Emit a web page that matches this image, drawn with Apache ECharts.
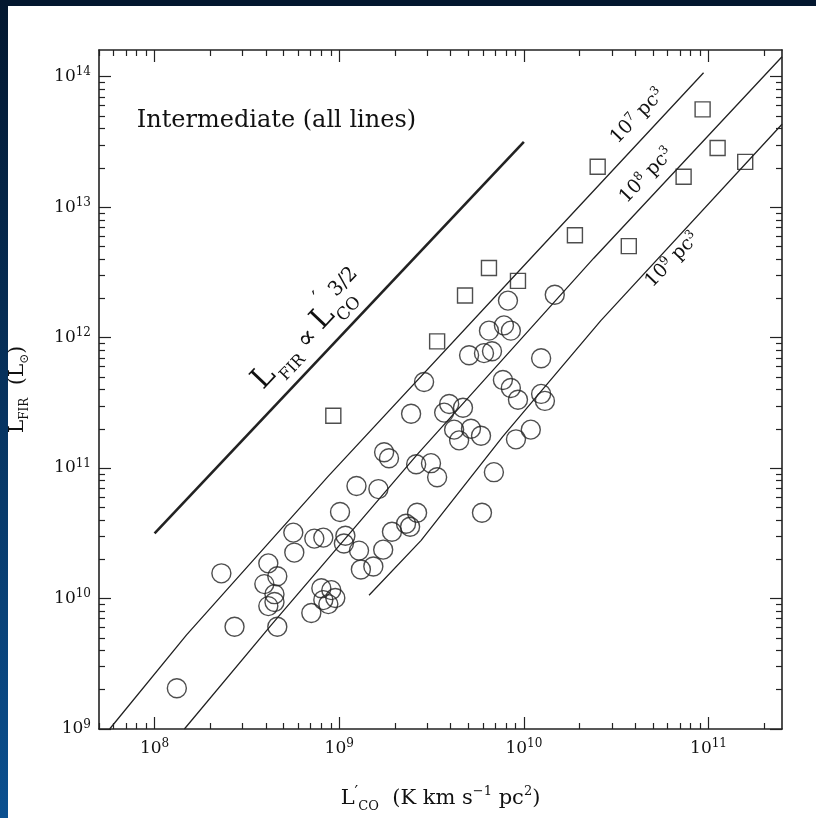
<!DOCTYPE html>
<html><head><meta charset="utf-8">
<script src="https://cdn.jsdelivr.net/npm/echarts@6/dist/echarts.min.js"></script>
<style>html,body{margin:0;padding:0;background:#fff}#c{width:816px;height:818px}</style>
</head><body><div id="c"></div>
<script>
// ---- data (L'CO [K km s^-1 pc^2], LFIR [Lsun]) ----
const circles = [
 [1.32e8,2.05e9],[2.30e8,1.56e10],[2.71e8,6.07e9],[4.13e8,1.86e10],[4.62e8,1.48e10],
 [3.93e8,1.29e10],[4.46e8,1.08e10],[4.13e8,8.75e9],[4.46e8,9.4e9],[4.62e8,6.07e9],
 [5.71e8,2.25e10],[5.64e8,3.2e10],[7.33e8,2.88e10],[8.2e8,2.93e10],[8.0e8,1.2e10],
 [9.06e8,1.16e10],[9.52e8,1.01e10],[8.2e8,9.73e9],[8.73e8,9.06e9],[7.06e8,7.74e9],
 [1.01e9,4.61e10],[1.08e9,3.03e10],[1.06e9,2.64e10],[1.28e9,2.33e10],[1.31e9,1.67e10],
 [1.53e9,1.76e10],[1.73e9,2.37e10],[1.93e9,3.25e10],[2.30e9,3.74e10],[2.42e9,3.55e10],
 [2.64e9,4.54e10],[1.24e9,7.28e10],[1.63e9,6.9e10],[1.75e9,1.32e11],[1.86e9,1.19e11],
 [2.61e9,1.07e11],[3.14e9,1.09e11],[3.39e9,8.5e10],[2.45e9,2.61e11],[2.88e9,4.57e11],
 [3.70e9,2.66e11],[3.94e9,3.1e11],[4.68e9,2.9e11],[4.19e9,1.97e11],[4.46e9,1.63e11],
 [5.17e9,2.0e11],[5.86e9,1.77e11],[5.05e9,7.33e11],[6.08e9,7.6e11],[6.72e9,7.86e11],
 [6.47e9,1.13e12],[7.8e9,1.24e12],[8.5e9,1.13e12],[8.2e9,1.92e12],[1.47e10,2.13e12],
 [1.24e10,6.95e11],[7.7e9,4.73e11],[8.5e9,4.11e11],[9.29e9,3.34e11],[1.24e10,3.7e11],
 [1.30e10,3.27e11],[9.06e9,1.66e11],[1.09e10,1.97e11],[6.88e9,9.3e10],[5.93e9,4.54e10]
];
const squares = [
 [9.29e8,2.52e11],[3.39e9,9.35e11],[4.80e9,2.1e12],[6.47e9,3.41e12],[9.29e9,2.72e12],
 [1.89e10,6.08e12],[2.51e10,2.04e13],[3.70e10,5.02e12],[7.33e10,1.71e13],[9.29e10,5.61e13],
 [1.12e11,2.84e13],[1.58e11,2.22e13]
];
const line1e7 = [[5.71e7,1e9],[1.49e8,5.27e9],[8.73e8,8.67e10],[1.09e10,4.06e12],[9.4e10,1.07e14]];
const line1e8 = [[1.45e8,1e9],[4.29e8,6.28e9],[2.67e9,1.29e11],[2.39e10,4.06e12],[2.5e11,1.42e14]];
const line1e9 = [[1.45e9,1.06e10],[2.77e9,2.78e10],[7.7e9,1.75e11],[2.61e10,1.35e12],[2.5e11,4.32e13]];
const slopeLine = [[1e8,3.16e10],[1e10,3.16e13]];
const xMajor = [1e8,1e9,1e10,1e11];
const yMajor = [1e9,1e10,1e11,1e12,1e13,1e14];
const xRange = [5e7,2.5e11];
const yRange = [1e9,1.6e14];
const modelLabels = ['7','8','9'];

// ---- build ----
const L = Math.log10;
const FONT = 'DejaVu Serif';
const INK = '#222';
const toLog = arr => arr.map(p => [L(p[0]), L(p[1])]);
function minors(r){
  const out=[]; const lo=Math.floor(L(r[0])), hi=Math.ceil(L(r[1]));
  for(let e=lo;e<=hi;e++) for(let k=2;k<=9;k++){const v=k*Math.pow(10,e); if(v>=r[0]&&v<=r[1]) out.push(L(v));}
  return out;
}
const xMin=L(xRange[0]), xMax=L(xRange[1]), yMin=L(yRange[0]), yMax=L(yRange[1]);
const xMajL = xMajor.map(L), yMajL = yMajor.map(L);
const xMinL = minors(xRange), yMinL = minors(yRange);
const richTick = {
  b:{fontFamily:FONT,fontSize:17,color:'#111',lineHeight:21},
  s:{fontFamily:FONT,fontSize:12,color:'#111',lineHeight:13,verticalAlign:'top'}
};
function axis(dim,pos,vals,len,label,line,min,max,extra){
  const a = {type:'value',position:pos,min:min,max:max,gridIndex:0,
    splitLine:{show:false},
    axisLine:{show:line,onZero:false,lineStyle:{color:INK,width:1.6}},
    axisTick:{show:true,inside:true,length:len,customValues:vals,lineStyle:{color:INK,width:1.2}},
    axisLabel:label?{show:true,customValues:vals,margin:dim==='x'?9:8,fontFamily:FONT,
      formatter:v=>'{b|10}{s|'+Math.round(v)+'}',rich:richTick}:{show:false}
  };
  return Object.assign(a,extra||{});
}
const xAxes = [
  axis('x','bottom',xMajL,12,true,true,xMin,xMax,{
    name:'{b|L}{p|′}{sub|CO}{b|  (K km s}{sup|−1}{b| pc}{sup|2}{b|)}',
    nameLocation:'middle',nameGap:56,
    nameTextStyle:{rich:{
      b:{fontFamily:FONT,fontSize:21,color:'#111',lineHeight:28},
      p:{fontFamily:FONT,fontSize:16,color:'#111',lineHeight:16,verticalAlign:'top'},
      sub:{fontFamily:FONT,fontSize:13,color:'#111',lineHeight:12,verticalAlign:'bottom'},
      sup:{fontFamily:FONT,fontSize:13,color:'#111',lineHeight:16,verticalAlign:'top'}
    }}
  }),
  axis('x','bottom',xMinL,6,false,false,xMin,xMax),
  axis('x','top',xMajL,12,false,true,xMin,xMax),
  axis('x','top',xMinL,6,false,false,xMin,xMax)
];
const yAxes = [
  axis('y','left',yMajL,12,true,true,yMin,yMax,{
    name:'{b|L}{sub|FIR}{b|  (L}{sub|⊙}{b|)}',
    nameLocation:'middle',nameGap:68,nameRotate:90,
    nameTextStyle:{rich:{
      b:{fontFamily:FONT,fontSize:20,color:'#111',lineHeight:26},
      sub:{fontFamily:FONT,fontSize:12,color:'#111',lineHeight:12,verticalAlign:'bottom'}
    }}
  }),
  axis('y','left',yMinL,6,false,false,yMin,yMax),
  axis('y','right',yMajL,12,false,true,yMin,yMax),
  axis('y','right',yMinL,6,false,false,yMin,yMax)
];
function lineSeries(d,w){
  return {type:'line',xAxisIndex:0,yAxisIndex:0,data:toLog(d),showSymbol:false,symbol:'none',
    smooth:false,clip:true,silent:true,animation:false,
    lineStyle:{color:INK,width:w}};
}
const chart = echarts.init(document.getElementById('c'),null,{renderer:'canvas'});
chart.setOption({
  backgroundColor:'#ffffff',
  animation:false,
  grid:{left:97,right:34,top:50,bottom:83,containLabel:false},
  xAxis:xAxes, yAxis:yAxes,
  series:[
    lineSeries(line1e7,1.3), lineSeries(line1e8,1.3), lineSeries(line1e9,1.3),
    lineSeries(slopeLine,2.6),
    {type:'scatter',xAxisIndex:0,yAxisIndex:0,data:toLog(circles),symbol:'circle',symbolSize:19,
      itemStyle:{color:'rgba(0,0,0,0)',borderColor:INK,borderWidth:1.4},animation:false,silent:true},
    {type:'scatter',xAxisIndex:0,yAxisIndex:0,data:toLog(squares),symbol:'rect',symbolSize:15,
      itemStyle:{color:'rgba(0,0,0,0)',borderColor:INK,borderWidth:1.4},animation:false,silent:true}
  ]
});

// ---- annotations anchored in data coordinates ----
const px = (x,y) => chart.convertToPixel({xAxisIndex:0,yAxisIndex:0},[L(x),L(y)]);
const labelAnchors = [[4.13e10,4.97e13],[4.62e10,1.74e13],[6.38e10,3.93e12]];
const g = [];
g.push({type:'rect',shape:{x:0,y:0,width:816,height:6},style:{fill:'#03172f'},z:0,silent:true});
g.push({type:'rect',shape:{x:0,y:0,width:8,height:818},silent:true,z:0,
  style:{fill:new echarts.graphic.LinearGradient(0,0,0,1,[{offset:0,color:'#03172f'},{offset:1,color:'#0b5090'}])}});
const ip = px(8.0e7,4.55e13);
g.push({type:'text',x:ip[0],y:ip[1],silent:true,z:10,
  style:{text:'Intermediate (all lines)',fontFamily:FONT,fontSize:24,fill:'#111',align:'left',verticalAlign:'middle'}});
const rot = 46*Math.PI/180;
labelAnchors.forEach((a,i)=>{
  const p = px(a[0],a[1]);
  g.push({type:'text',x:p[0],y:p[1],rotation:rot,silent:true,z:10,
    style:{text:'{n|10}{s|'+modelLabels[i]+'}{n| pc}{s|3}',align:'center',verticalAlign:'middle',
      rich:{n:{fontFamily:FONT,fontSize:19,fill:'#111',lineHeight:22},
            s:{fontFamily:FONT,fontSize:12,fill:'#111',lineHeight:13,verticalAlign:'top'}}}});
});
// slope label rotated along the thick line
const s0 = px(slopeLine[0][0],slopeLine[0][1]), s1 = px(slopeLine[1][0],slopeLine[1][1]);
const srot = Math.atan2(s0[1]-s1[1], s1[0]-s0[0]);
const o = px(5.01e8,3.55e11);
const t = (txt,x,y,fs)=>({type:'text',x:x,y:y,silent:true,
  style:{text:txt,fontFamily:FONT,fontSize:fs,fill:'#111',align:'center',verticalAlign:'middle'}});
g.push({type:'group',x:o[0],y:o[1],rotation:srot,silent:true,z:10,children:[
  t('L',0,-27,30), t('FIR',27,-13,16), t('∝',58,-22,26), t('L',84,-25,30),
  t('′',96,-42,20), t('CO',108,-12,17), t('3/2',124,-35,20)
]});
chart.setOption({graphic:g});
</script></body></html>
